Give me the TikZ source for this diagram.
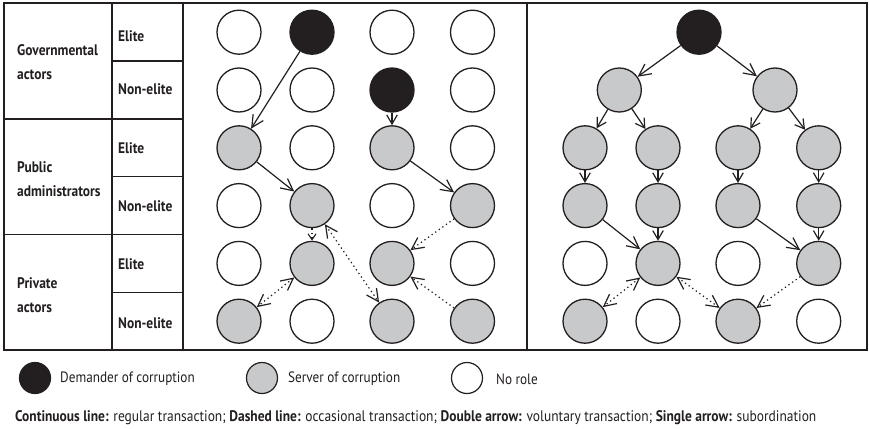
\documentclass[tikz,border=0pt]{standalone}
\usepackage{fontspec}
\setmainfont{PT Sans}[FakeStretch=0.88]
\usetikzlibrary{arrows.meta}

\definecolor{ink}{HTML}{231F20}
\definecolor{servergray}{HTML}{C8C9CB}

\tikzset{
  actor/.style={circle, draw=ink, line width=1.3pt, minimum size=44pt, inner sep=0pt},
  dem/.style={actor, fill=ink},
  srv/.style={actor, fill=servergray},
  nor/.style={actor, fill=white},
  keydot/.style={circle, draw=ink, line width=1.2pt, minimum size=31pt, inner sep=0pt},
  tip/.tip={Straight Barb[length=12pt,width=12pt,line width=1.2pt]},
  shorttip/.tip={Straight Barb[length=9pt,width=10.5pt,line width=1.2pt]},
  tinytip/.tip={Straight Barb[length=6pt,width=8pt,line width=1.1pt]},
  reg/.style={draw=ink, line width=1.2pt, -tip},
  regshort/.style={draw=ink, line width=1.2pt, -shorttip},
  occ/.style={draw=ink, line width=1.2pt, dash pattern=on 1.3pt off 3.1pt, -tip},
  occboth/.style={occ, tip-tip},
  grid line/.style={draw=ink, line width=1.3pt},
  rowlabel/.style={anchor=west, align=left, inner sep=0pt, text=ink,
    font=\fontsize{15.3}{24.5}\selectfont\bfseries},
  keytext/.style={anchor=west, inner sep=0pt, text=ink, font=\fontsize{15}{18}\selectfont},
}

\begin{document}
\begin{tikzpicture}[x=1pt, y=-1pt]
\useasboundingbox (0,0) rectangle (869,428);

% frame and table rules
\draw[grid line, line width=1.6pt] (4,3) rectangle (867,350);
\draw[grid line] (112,3) -- (112,350);
\draw[grid line] (183,3) -- (183,350);
\draw[grid line] (527,3) -- (527,350);
\draw[grid line] (4,118.9) -- (183,118.9);
\draw[grid line] (4,234.5) -- (183,234.5);
\draw[grid line] (112,61.1) -- (183,61.1);
\draw[grid line] (112,176.7) -- (183,176.7);
\draw[grid line] (112,292.3) -- (183,292.3);

% actor groups
\node[rowlabel] (g1) at (17,62) {Governmental\\actors};
\node[rowlabel] (g2) at (17,179) {Public\\administrators};
\node[rowlabel] (g3) at (17,295) {Private\\actors};

% elite / non-elite rows
\node[rowlabel] (e1) at (118,36) {Elite};
\node[rowlabel] (n1) at (118,89) {Non-elite};
\node[rowlabel] (e2) at (118,148) {Elite};
\node[rowlabel] (n2) at (118,206) {Non-elite};
\node[rowlabel] (e3) at (118,264) {Elite};
\node[rowlabel] (n3) at (118,323) {Non-elite};

% left panel: grid of actors
\node[nor] (L11) at (239,32.2) {};
\node[dem] (L12) at (312,32.2) {};
\node[nor] (L13) at (392,32.2) {};
\node[nor] (L14) at (472.5,32.2) {};
\node[nor] (L21) at (239,90) {};
\node[nor] (L22) at (312,90) {};
\node[dem] (L23) at (392,90) {};
\node[nor] (L24) at (472.5,90) {};
\node[srv] (L31) at (239,147.8) {};
\node[nor] (L32) at (312,147.8) {};
\node[srv] (L33) at (392,147.8) {};
\node[nor] (L34) at (472.5,147.8) {};
\node[nor] (L41) at (239,205.6) {};
\node[srv] (L42) at (312,205.6) {};
\node[nor] (L43) at (392,205.6) {};
\node[srv] (L44) at (472.5,205.6) {};
\node[nor] (L51) at (239,263.4) {};
\node[srv] (L52) at (312,263.4) {};
\node[srv] (L53) at (392,263.4) {};
\node[nor] (L54) at (472.5,263.4) {};
\node[srv] (L61) at (239,321.2) {};
\node[nor] (L62) at (312,321.2) {};
\node[srv] (L63) at (392,321.2) {};
\node[srv] (L64) at (472.5,321.2) {};

\draw[reg] (L12) -- (L31);
\draw[regshort] (L23) -- (L33);
\draw[reg] (L31) -- (L42);
\draw[reg] (L33) -- (L44);
\draw[occ, -tinytip] (L42) -- (L52);
\draw[occboth] (L42) -- (L63);
\draw[occboth] (L52) -- (L61);
\draw[occ] (L44) -- (L53);
\draw[occ] (L64) -- (L53);

% right panel: hierarchy
\node[dem] (R0) at (699,32.2) {};
\node[srv] (Ra) at (619.3,90) {};
\node[srv] (Rb) at (775,90) {};
\node[srv] (R31) at (585,147.8) {};
\node[srv] (R32) at (658,147.8) {};
\node[srv] (R33) at (738,147.8) {};
\node[srv] (R34) at (818.7,147.8) {};
\node[srv] (R41) at (585,205.6) {};
\node[srv] (R42) at (658,205.6) {};
\node[srv] (R43) at (738,205.6) {};
\node[srv] (R44) at (818.7,205.6) {};
\node[nor] (R51) at (585,263.4) {};
\node[srv] (R52) at (658,263.4) {};
\node[nor] (R53) at (738,263.4) {};
\node[srv] (R54) at (818.7,263.4) {};
\node[srv] (R61) at (585,321.2) {};
\node[nor] (R62) at (658,321.2) {};
\node[srv] (R63) at (738,321.2) {};
\node[nor] (R64) at (818.7,321.2) {};

\draw[reg] (R0) -- (Ra);
\draw[reg] (R0) -- (Rb);
\draw[regshort] (Ra) -- (R31);
\draw[regshort] (Ra) -- (R32);
\draw[regshort] (Rb) -- (R33);
\draw[regshort] (Rb) -- (R34);
\draw[regshort] (R31) -- (R41);
\draw[regshort] (R32) -- (R42);
\draw[regshort] (R33) -- (R43);
\draw[regshort] (R34) -- (R44);
\draw[reg] (R41) -- (R52);
\draw[regshort] (R42) -- (R52);
\draw[reg] (R43) -- (R54);
\draw[regshort] (R44) -- (R54);
\draw[occboth] (R52) -- (R61);
\draw[occboth] (R52) -- (R63);
\draw[occ] (R54) -- (R63);

% key
\node[keydot, fill=ink] (k1) at (35,378) {};
\node[keytext] (t1) at (60,379) {Demander of corruption};
\node[keydot, fill=servergray] (k2) at (262,378) {};
\node[keytext] (t2) at (288,379) {Server of corruption};
\node[keydot, fill=white] (k3) at (467,378) {};
\node[keytext] (t3) at (496,379) {No role};

\node[anchor=base west, inner sep=0pt, text=ink, font=\fontsize{15.3}{18}\selectfont] (note) at (15,421)
  {\textbf{Continuous line:} regular transaction; \textbf{Dashed line:} occasional transaction; \textbf{Double arrow:} voluntary transaction; \textbf{Single arrow:} subordination};
\end{tikzpicture}
\end{document}
